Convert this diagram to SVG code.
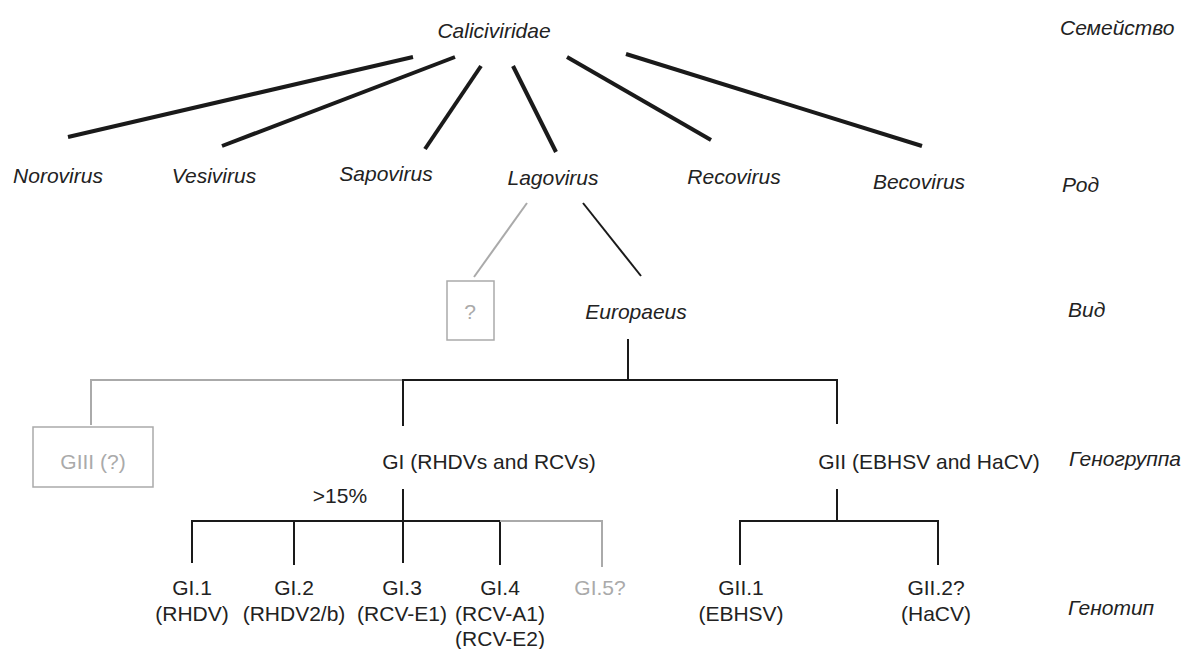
<svg xmlns="http://www.w3.org/2000/svg" width="1189" height="649" viewBox="0 0 1189 649">
<style>
text{font-family:"Liberation Sans",Arial,sans-serif;font-size:21px;fill:#222;text-anchor:middle}
.it{font-style:italic}
.lv{font-style:italic;text-anchor:start}
.g{fill:#aaa}
.thick{stroke:#1a1a1a;stroke-width:4;fill:none}
.blk{stroke:#1a1a1a;stroke-width:2;fill:none}
.gry{stroke:#aaa;stroke-width:2;fill:none}
.box{stroke:#aaa;stroke-width:1.5;fill:#fff}
</style>
<rect width="1189" height="649" fill="#fff"/>
<g id="connectors">
<line class="thick" x1="413" y1="57" x2="68" y2="137"/>
<line class="thick" x1="455" y1="57" x2="222" y2="146"/>
<line class="thick" x1="481" y1="66" x2="425" y2="149"/>
<line class="thick" x1="513" y1="66" x2="556" y2="152"/>
<line class="thick" x1="567" y1="57" x2="711" y2="140"/>
<line class="thick" x1="626" y1="54" x2="922" y2="146"/>
<line class="gry" x1="527" y1="203" x2="474" y2="277"/>
<line class="blk" x1="583" y1="203" x2="641" y2="276"/>
<line class="blk" x1="628" y1="339" x2="628" y2="380"/>
<polyline class="gry" points="91,425 91,380 403,380"/>
<polyline class="blk" points="403,426 403,380 837,380 837,424"/>
<line class="blk" x1="403" y1="489" x2="403" y2="563"/>
<polyline class="blk" points="192,563 192,521 500,521 500,565"/>
<line class="blk" x1="294" y1="521" x2="294" y2="565"/>
<polyline class="gry" points="500,521 602,521 602,567"/>
<line class="blk" x1="837" y1="489" x2="837" y2="521"/>
<polyline class="blk" points="740,565 740,521 938,521 938,565"/>
</g>
<g id="n-caliciviridae"><text class="it" x="494" y="38">Caliciviridae</text></g>
<g id="n-norovirus"><text class="it" x="58" y="183">Norovirus</text></g>
<g id="n-vesivirus"><text class="it" x="214" y="183">Vesivirus</text></g>
<g id="n-sapovirus"><text class="it" x="386" y="181">Sapovirus</text></g>
<g id="n-lagovirus"><text class="it" x="553" y="185">Lagovirus</text></g>
<g id="n-recovirus"><text class="it" x="734" y="184">Recovirus</text></g>
<g id="n-becovirus"><text class="it" x="919" y="189">Becovirus</text></g>
<g id="n-unknown-species"><rect class="box" x="447" y="281" width="47" height="59"/><text class="g" x="470" y="319">?</text></g>
<g id="n-europaeus"><text class="it" x="636" y="319">Europaeus</text></g>
<g id="n-giii"><rect class="box" x="33" y="427" width="120" height="60"/><text class="g" x="93" y="469">GIII (?)</text></g>
<g id="n-gi"><text x="489" y="469">GI (RHDVs and RCVs)</text></g>
<g id="n-gii"><text x="929" y="469">GII (EBHSV and HaCV)</text></g>
<g id="n-pct"><text x="340" y="503">&gt;15%</text></g>
<g id="n-gi1"><text x="192" y="595">GI.1</text><text x="192" y="621">(RHDV)</text></g>
<g id="n-gi2"><text x="294" y="595">GI.2</text><text x="294" y="621">(RHDV2/b)</text></g>
<g id="n-gi3"><text x="402" y="595">GI.3</text><text x="402" y="621">(RCV-E1)</text></g>
<g id="n-gi4"><text x="500" y="595">GI.4</text><text x="500" y="621">(RCV-A1)</text><text x="500" y="646">(RCV-E2)</text></g>
<g id="n-gi5"><text class="g" x="600" y="595">GI.5?</text></g>
<g id="n-gii1"><text x="741" y="595">GII.1</text><text x="741" y="621">(EBHSV)</text></g>
<g id="n-gii2"><text x="936" y="595">GII.2?</text><text x="936" y="621">(HaCV)</text></g>
<g id="levels">
<text class="lv" x="1060" y="35">Семейство</text>
<text class="lv" x="1062" y="192">Род</text>
<text class="lv" x="1068" y="317">Вид</text>
<text class="lv" x="1069" y="466">Геногруппа</text>
<text class="lv" x="1068" y="615">Генотип</text>
</g>
</svg>
